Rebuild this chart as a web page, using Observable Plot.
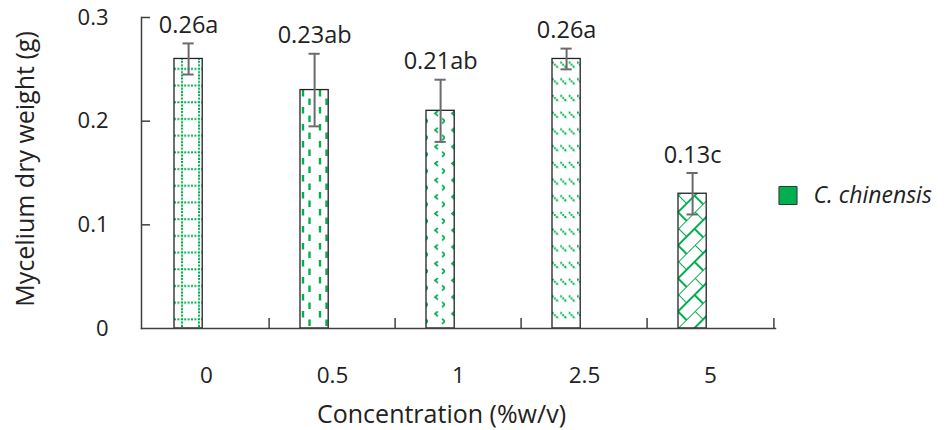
<!DOCTYPE html>
<html><head><meta charset="utf-8">
<script src="https://cdn.jsdelivr.net/npm/d3@7"></script>
<script src="https://cdn.jsdelivr.net/npm/@observablehq/plot@0.6"></script>
<style>body{margin:0;background:#fff;font-family:"Open Sans",sans-serif}</style>
</head><body><div id="chart"></div>
<script>
const categories = ["0", "0.5", "1", "2.5", "5"];
const means = [0.26, 0.23, 0.21, 0.26, 0.13];
const errors = [0.015, 0.035, 0.03, 0.01, 0.02];
const letters = ["a", "ab", "ab", "a", "c"];
const yTicks = [0, 0.1, 0.2, 0.3];
const seriesName = "C. chinensis";
const xTitle = "Concentration (%w/v)";
const yTitle = "Mycelium dry weight (g)";

const data = categories.map((c, i) => ({cat: c, mean: means[i], err: errors[i], label: means[i].toFixed(2) + letters[i]}));

const W = 947, H = 430, mL = 141, mR = 172, mT = 17, mB = 102;
const plotW = W - mL - mR, plotH = H - mT - mB;
const bw = plotW / categories.length;
const barOff = 31, barW = 29;
const ctr = barOff + barW / 2 - bw / 2;
const capHalf = 6;
const axisColor = "#404040", errColor = "#6b6b6b", textColor = "#222";

const chart = Plot.plot({
  width: W, height: H,
  marginLeft: mL, marginRight: mR, marginTop: mT, marginBottom: mB,
  style: {fontFamily: "'Open Sans', sans-serif", color: textColor, background: "white", overflow: "visible"},
  x: {type: "band", domain: categories, paddingInner: 0, paddingOuter: 0, label: null},
  y: {domain: [0, 0.3], label: null},
  marks: [
    Plot.barY(data, {x: "cat", y: "mean", fill: "white", stroke: "#222", strokeWidth: 1.3,
      insetLeft: barOff, insetRight: bw - barOff - barW}),
    Plot.ruleX(data, {x: "cat", y1: d => d.mean - d.err, y2: d => d.mean + d.err, dx: ctr, stroke: errColor, strokeWidth: 2}),
    Plot.tickY(data, {x: "cat", y: d => d.mean + d.err, stroke: errColor, strokeWidth: 2,
      insetLeft: barOff + barW / 2 - capHalf, insetRight: bw - (barOff + barW / 2 + capHalf)}),
    Plot.tickY(data, {x: "cat", y: d => d.mean - d.err, stroke: errColor, strokeWidth: 2,
      insetLeft: barOff + barW / 2 - capHalf, insetRight: bw - (barOff + barW / 2 + capHalf)}),
    Plot.text(data, {x: "cat", y: d => d.mean + d.err, text: "label", dx: ctr, dy: -18, fontSize: 23.5, fill: textColor}),
    Plot.frame({anchor: "left", stroke: axisColor, strokeWidth: 1.5}),
    Plot.frame({anchor: "bottom", stroke: axisColor, strokeWidth: 1.5}),
    Plot.tickY(yTicks.filter(t => t > 0), {y: d => d, stroke: axisColor, strokeWidth: 1.5, insetRight: plotW - 9}),
    Plot.tickX(categories.slice(1), {x: d => d, dx: -bw / 2, stroke: axisColor, strokeWidth: 1.5, insetTop: plotH - 10}),
    Plot.tickX(categories.slice(-1), {x: d => d, dx: bw / 2, stroke: axisColor, strokeWidth: 1.5, insetTop: plotH - 10}),
    Plot.axisY(yTicks, {tickSize: 0, tickPadding: 33, fontSize: 22, label: null, tickFormat: d => d === 0 ? "0" : d.toFixed(1)}),
    Plot.axisX({tickSize: 0, tickPadding: 39, fontSize: 22.5, label: null}),
    Plot.text([xTitle], {frameAnchor: "bottom", text: d => d, dx: -17, dy: 86, fontSize: 25, fill: textColor, lineAnchor: "middle", textAnchor: "middle"}),
    Plot.text([yTitle], {frameAnchor: "left", text: d => d, dx: -116, dy: -4, rotate: -90, fontSize: 25, fill: textColor, lineAnchor: "middle", textAnchor: "middle"}),
    Plot.dot([seriesName], {frameAnchor: "right", dx: 12.5, dy: 22.5, symbol: "square", r: 10.2, fill: "#00B050", stroke: "#333", strokeWidth: 1}),
    Plot.text([seriesName], {frameAnchor: "right", text: d => d, dx: 38, dy: 22.5, textAnchor: "start", fontStyle: "italic", fontSize: 23, fill: textColor})
  ]
});
document.getElementById("chart").appendChild(chart);

// hatch patterns for the bars
const NS = "http://www.w3.org/2000/svg";
const G = "#00B050";
const patternSpecs = [
  {w: 17, h: 16.7, dx: 0, rot: 0, paths: [
    {d: "M8,0V16.7", dash: "2 1.4", sw: 2},
    {d: "M0,8H17", dash: "2 1.4", sw: 2}]},
  {w: 17, h: 17, dx: 0, rot: 0, paths: [
    {d: "M3,0V6.5", sw: 2.4},
    {d: "M9.5,8.5V15", sw: 2.4}]},
  {w: 17, h: 16.7, dx: 2, rot: 0, paths: [
    {d: "M10,0L7,2.5L10,5", sw: 1.8},
    {d: "M14,7.5L17,10L14,12.5", sw: 1.8}]},
  {w: 8.35, h: 16.7, dx: 0, rot: 0, paths: [
    {d: "M0,1L6.5,7.5", dash: "2 1", sw: 2}]},
  {w: 23.4, h: 23.4, dx: 0, rot: -45, paths: [
    {d: "M0,0H23.4M0,11.7H23.4M0,0V11.7M11.7,11.7V23.4", sw: 2}]}
];
const defs = document.createElementNS(NS, "defs");
chart.insertBefore(defs, chart.firstChild);
const rects = chart.querySelectorAll('g[aria-label="bar"] rect');
rects.forEach((r, i) => {
  const spec = patternSpecs[i % patternSpecs.length];
  const x = +r.getAttribute("x"), y = +r.getAttribute("y"), h = +r.getAttribute("height");
  const p = document.createElementNS(NS, "pattern");
  p.setAttribute("id", "hatch" + i);
  p.setAttribute("patternUnits", "userSpaceOnUse");
  p.setAttribute("width", spec.w);
  p.setAttribute("height", spec.h);
  p.setAttribute("patternTransform", `translate(${x + spec.dx},${y + h}) rotate(${spec.rot})`);
  const bg = document.createElementNS(NS, "rect");
  bg.setAttribute("width", spec.w); bg.setAttribute("height", spec.h); bg.setAttribute("fill", "white");
  p.appendChild(bg);
  for (const s of spec.paths) {
    const path = document.createElementNS(NS, "path");
    path.setAttribute("d", s.d);
    path.setAttribute("fill", "none");
    path.setAttribute("stroke", G);
    path.setAttribute("stroke-width", s.sw);
    if (s.dash) path.setAttribute("stroke-dasharray", s.dash);
    p.appendChild(path);
  }
  defs.appendChild(p);
  r.setAttribute("fill", `url(#hatch${i})`);
});
</script>
</body></html>
